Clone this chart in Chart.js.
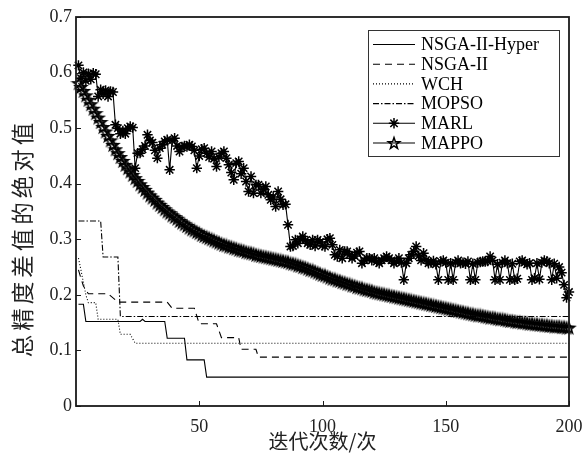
<!DOCTYPE html>
<html>
<head>
<meta charset="utf-8">
<script src="https://cdn.jsdelivr.net/npm/chart.js@4.4.1/dist/chart.umd.min.js"></script>
<style>
  html, body { margin: 0; padding: 0; background: #fff; }
</style>
</head>
<body>
<canvas id="chart" width="587" height="456"></canvas>
<script>
// iteration axis
const iters = Array.from({ length: 200 }, (_, i) => i + 1);
const xTicks = [50, 100, 150, 200];
const yLabel = '总精度差值的绝对值';
const xLabel = '迭代次数/次';

// step-shaped results, given as [iteration, value] breakpoints
const hyperPts = [[1, 0.183], [3, 0.183], [4, 0.152], [26, 0.152], [27, 0.156], [28, 0.152], [36, 0.152],
  [37, 0.122], [44, 0.122], [45, 0.083], [52, 0.083], [53, 0.052], [200, 0.052]];
const nsgaPts = [[1, 0.245], [2, 0.23], [3, 0.216], [5, 0.202], [13, 0.202], [17, 0.187], [37, 0.187],
  [39, 0.176], [48, 0.176], [50, 0.148], [57, 0.148], [59, 0.123], [66, 0.123], [67, 0.102], [73, 0.102],
  [74, 0.088], [200, 0.088]];
const wchPts = [[1, 0.266], [2, 0.245], [3, 0.222], [4, 0.2], [5, 0.186], [8, 0.186], [9, 0.156], [17, 0.156],
  [18, 0.129], [22, 0.129], [24, 0.113], [200, 0.113]];
const mopsoPts = [[1, 0.333], [10, 0.333], [11, 0.268], [17, 0.268], [18, 0.161], [200, 0.161]];

// per-iteration curves
const marl = [
  0.613, 0.590, 0.600, 0.585, 0.598, 0.588, 0.599, 0.597, 0.557, 0.569,
  0.562, 0.568, 0.557, 0.566, 0.565, 0.506, 0.500, 0.490, 0.495, 0.490,
  0.500, 0.503, 0.501, 0.428, 0.455, 0.455, 0.462, 0.468, 0.488, 0.478,
  0.474, 0.460, 0.446, 0.464, 0.470, 0.476, 0.479, 0.425, 0.478, 0.482,
  0.468, 0.458, 0.466, 0.468, 0.467, 0.470, 0.467, 0.460, 0.428, 0.450,
  0.462, 0.464, 0.455, 0.448, 0.458, 0.445, 0.431, 0.448, 0.455, 0.458,
  0.446, 0.434, 0.420, 0.407, 0.437, 0.440, 0.418, 0.428, 0.404, 0.386,
  0.413, 0.383, 0.398, 0.398, 0.383, 0.390, 0.395, 0.380, 0.371, 0.376,
  0.359, 0.386, 0.372, 0.362, 0.363, 0.326, 0.287, 0.288, 0.299, 0.293,
  0.300, 0.305, 0.298, 0.293, 0.290, 0.299, 0.288, 0.299, 0.295, 0.289,
  0.287, 0.300, 0.302, 0.290, 0.272, 0.269, 0.281, 0.266, 0.278, 0.278,
  0.272, 0.266, 0.270, 0.276, 0.278, 0.257, 0.262, 0.266, 0.266, 0.262,
  0.266, 0.260, 0.257, 0.262, 0.266, 0.269, 0.266, 0.262, 0.257, 0.260,
  0.266, 0.258, 0.227, 0.257, 0.266, 0.272, 0.278, 0.287, 0.270, 0.262,
  0.275, 0.263, 0.257, 0.258, 0.261, 0.255, 0.227, 0.260, 0.262, 0.258,
  0.227, 0.257, 0.227, 0.258, 0.262, 0.257, 0.258, 0.256, 0.260, 0.227,
  0.256, 0.227, 0.258, 0.259, 0.260, 0.260, 0.261, 0.269, 0.262, 0.227,
  0.255, 0.227, 0.258, 0.262, 0.257, 0.227, 0.256, 0.227, 0.229, 0.260,
  0.262, 0.258, 0.255, 0.257, 0.227, 0.230, 0.257, 0.228, 0.258, 0.262,
  0.260, 0.257, 0.227, 0.256, 0.230, 0.250, 0.240, 0.218, 0.195, 0.205
];
const mappo = [
  0.581, 0.574, 0.567, 0.559, 0.551, 0.543, 0.535, 0.527, 0.519, 0.511,
  0.502, 0.494, 0.486, 0.478, 0.470, 0.462, 0.455, 0.448, 0.441, 0.434,
  0.428, 0.422, 0.416, 0.410, 0.405, 0.399, 0.394, 0.389, 0.384, 0.379,
  0.375, 0.371, 0.366, 0.362, 0.358, 0.354, 0.350, 0.347, 0.343, 0.340,
  0.337, 0.333, 0.330, 0.327, 0.324, 0.321, 0.318, 0.316, 0.313, 0.311,
  0.308, 0.306, 0.304, 0.302, 0.300, 0.298, 0.296, 0.294, 0.292, 0.290,
  0.289, 0.287, 0.286, 0.284, 0.283, 0.281, 0.280, 0.279, 0.277, 0.276,
  0.275, 0.274, 0.272, 0.271, 0.270, 0.269, 0.268, 0.267, 0.266, 0.265,
  0.264, 0.263, 0.262, 0.261, 0.260, 0.259, 0.257, 0.256, 0.255, 0.253,
  0.252, 0.250, 0.249, 0.247, 0.245, 0.244, 0.242, 0.240, 0.238, 0.236,
  0.235, 0.233, 0.231, 0.229, 0.228, 0.226, 0.225, 0.223, 0.222, 0.220,
  0.219, 0.217, 0.216, 0.214, 0.213, 0.212, 0.210, 0.209, 0.208, 0.207,
  0.205, 0.204, 0.203, 0.202, 0.201, 0.200, 0.199, 0.198, 0.197, 0.196,
  0.195, 0.194, 0.193, 0.192, 0.191, 0.190, 0.189, 0.188, 0.187, 0.186,
  0.185, 0.184, 0.183, 0.182, 0.181, 0.180, 0.179, 0.178, 0.177, 0.176,
  0.175, 0.174, 0.173, 0.172, 0.171, 0.170, 0.169, 0.168, 0.167, 0.166,
  0.165, 0.164, 0.163, 0.163, 0.162, 0.161, 0.160, 0.159, 0.159, 0.158,
  0.157, 0.156, 0.156, 0.155, 0.154, 0.153, 0.153, 0.152, 0.151, 0.151,
  0.150, 0.150, 0.149, 0.148, 0.148, 0.147, 0.147, 0.146, 0.146, 0.145,
  0.145, 0.144, 0.144, 0.143, 0.143, 0.143, 0.142, 0.142, 0.141, 0.141
];

const SERIF = '"Liberation Serif", "Times New Roman", serif';
const CJK = '"Noto Sans CJK SC", sans-serif';

// hollow pentagram marker
function pentagram(r, lw) {
  const size = Math.ceil(r * 2 + 4);
  const cv = document.createElement('canvas');
  cv.width = size;
  cv.height = size;
  const g = cv.getContext('2d');
  const c = size / 2;
  g.beginPath();
  for (let i = 0; i < 10; i++) {
    const rad = i % 2 === 0 ? r : r * 0.4;
    const a = -Math.PI / 2 + i * Math.PI / 5;
    const px = c + rad * Math.cos(a);
    const py = c + 0.6 + rad * Math.sin(a);
    if (i === 0) g.moveTo(px, py); else g.lineTo(px, py);
  }
  g.closePath();
  g.strokeStyle = '#000';
  g.lineWidth = lw;
  g.stroke();
  return cv;
}
const starMark = pentagram(6, 1.5);

const toXY = pts => pts.map(p => ({ x: p[0], y: p[1] }));
const series = vals => vals.map((v, i) => ({ x: iters[i], y: v }));

// box, inward tick marks, axis titles
const axesFrame = {
  id: 'axesFrame',
  afterDatasetsDraw(chart) {
    const { ctx, chartArea: a, scales: { x, y } } = chart;
    ctx.save();
    ctx.strokeStyle = '#1a1a1a';
    ctx.lineWidth = 1;
    ctx.beginPath();
    y.ticks.forEach(t => {
      const py = Math.round(y.getPixelForValue(t.value)) + 0.5;
      ctx.moveTo(a.left, py);
      ctx.lineTo(a.left + 5, py);
    });
    x.ticks.forEach(t => {
      const px = Math.round(x.getPixelForValue(t.value)) + 0.5;
      ctx.moveTo(px, a.bottom);
      ctx.lineTo(px, a.bottom - 5);
    });
    ctx.stroke();
    ctx.lineWidth = 1.8;
    ctx.strokeRect(a.left, a.top, a.right - a.left, a.bottom - a.top);

    ctx.fillStyle = '#222';
    ctx.textAlign = 'center';
    ctx.textBaseline = 'middle';
    ctx.font = '20px ' + CJK;
    ctx.fillText(xLabel, (a.left + a.right) / 2, 441);

    // vertical title, one glyph at a time so it can be spaced out
    ctx.font = '22.5px ' + CJK;
    ctx.translate(22, 240);
    ctx.rotate(-Math.PI / 2);
    const chars = Array.from(yLabel);
    const pitch = 26.5;
    chars.forEach((ch, i) => {
      ctx.fillText(ch, (i - (chars.length - 1) / 2) * pitch, 0);
    });
    ctx.restore();
  }
};

// legend box in the upper right
const boxLegend = {
  id: 'boxLegend',
  afterDraw(chart) {
    const { ctx } = chart;
    const left = 368, top = 30, w = 192, h = 127;
    ctx.save();
    ctx.fillStyle = '#fff';
    ctx.fillRect(left, top, w, h);
    ctx.strokeStyle = '#333';
    ctx.lineWidth = 1;
    ctx.strokeRect(left + 0.5, top + 0.5, w - 1, h - 1);
    chart.data.datasets.forEach((ds, i) => {
      const yy = top + 14.5 + i * 19.7;
      ctx.strokeStyle = '#000';
      ctx.lineWidth = ds.borderWidth;
      ctx.setLineDash(ds.borderDash || []);
      ctx.beginPath();
      ctx.moveTo(left + 5, yy);
      ctx.lineTo(left + 47, yy);
      ctx.stroke();
      ctx.setLineDash([]);
      if (ds.pointRadius > 0) {
        ctx.lineWidth = ds.pointBorderWidth || 1;
        Chart.helpers.drawPoint(ctx, {
          pointStyle: ds.pointStyle, radius: ds.pointRadius, borderWidth: ds.pointBorderWidth || 1, rotation: 0
        }, left + 26, yy);
      }
      ctx.fillStyle = '#000';
      ctx.font = '18px ' + SERIF;
      ctx.textBaseline = 'middle';
      ctx.fillText(ds.label, left + 53, yy + 1);
    });
    ctx.restore();
  }
};

const stepLine = (label, pts, dash) => ({
  label, data: toXY(pts), borderColor: '#000', borderWidth: 1.1, borderDash: dash,
  pointRadius: 0, tension: 0
});

new Chart(document.getElementById('chart'), {
  type: 'line',
  data: {
    datasets: [
      stepLine('NSGA-II-Hyper', hyperPts, []),
      stepLine('NSGA-II', nsgaPts, [7, 5]),
      stepLine('WCH', wchPts, [1, 2]),
      stepLine('MOPSO', mopsoPts, [6, 2, 1.5, 2]),
      {
        label: 'MARL', data: series(marl), borderColor: '#000', backgroundColor: '#000', borderWidth: 1.1,
        pointStyle: 'star', pointRadius: 5.2, pointBorderWidth: 1.5, pointBorderColor: '#000', clip: false
      },
      {
        label: 'MAPPO', data: series(mappo), borderColor: '#000', borderWidth: 1.1,
        pointStyle: starMark, pointRadius: 6, pointBorderWidth: 1.5, clip: false
      }
    ]
  },
  options: {
    responsive: false,
    animation: false,
    events: [],
    layout: { padding: { left: 6, right: 18, top: 17, bottom: 2 } },
    plugins: { legend: { display: false }, tooltip: { enabled: false } },
    scales: {
      x: {
        type: 'linear', min: 0, max: 200,
        afterBuildTicks: s => { s.ticks = xTicks.map(v => ({ value: v })); },
        afterFit: s => { s.height = 48; },
        grid: { display: false },
        border: { display: false },
        ticks: { color: '#222', font: { family: SERIF, size: 18 }, padding: 2, maxRotation: 0 }
      },
      y: {
        min: 0, max: 0.7,
        afterFit: s => { s.width = 70; },
        grid: { display: false, drawTicks: false },
        border: { display: false },
        ticks: {
          stepSize: 0.1, color: '#222', font: { family: SERIF, size: 18 }, padding: 4,
          callback: v => (Math.round(v * 10) / 10).toString()
        }
      }
    }
  },
  plugins: [axesFrame, boxLegend]
});
</script>
</body>
</html>
